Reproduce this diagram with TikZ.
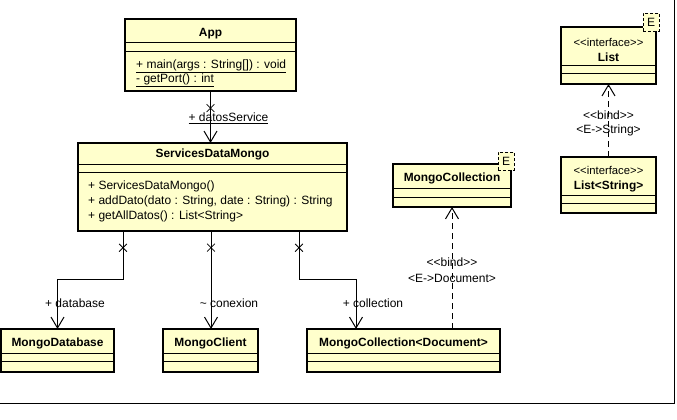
\documentclass[tikz,border=0pt]{standalone}
\usepackage{fontspec}
\setmainfont{Liberation Sans}[Ligatures=TeXOff]
\usepackage{tikz}
\usetikzlibrary{positioning}
\usetikzlibrary{arrows.meta}
\usetikzlibrary{shapes.misc}
\definecolor{classfill}{RGB}{255,255,204}

\begin{document}
\begin{tikzpicture}[
    x=1pt, y=-1pt,
    font=\fontsize{12}{14}\selectfont,
    klass/.style={
      draw,
      line width=2pt,
      fill=classfill,
      anchor=north west,
      inner sep=0pt,
      outer sep=0pt
    },
    title/.style={font=\fontsize{11.9}{14}\selectfont\bfseries, inner sep=0pt},
    stereo/.style={font=\fontsize{11.3}{13}\selectfont, inner sep=0pt},
    member/.style={anchor=west, inner sep=0pt},
    lbl/.style={inner sep=0pt},
    divider/.style={line width=1pt},
    assoc/.style={draw, line width=1pt, -{Straight Barb[length=11pt, width=13pt]}},
    bind/.style={draw, line width=1pt, dashed, dash pattern=on 6pt off 4pt,
      -{Straight Barb[length=11pt, width=13pt]}},
    xmark/.style={draw, cross out, line width=0.8pt, minimum size=7pt, inner sep=0pt},
    tparam/.style={draw, dashed, dash pattern=on 3pt off 2pt, line width=1pt,
      fill=classfill, minimum width=16pt, minimum height=18pt, inner sep=0pt},
    ]

    \useasboundingbox (0,0) rectangle (677,420);

    % class boxes
    \node[klass, minimum width=171pt, minimum height=72pt] (app) at (125,19) {};
    \node[klass, minimum width=269pt, minimum height=88pt] (sdm) at (78,143) {};
    \node[klass, minimum width=113pt, minimum height=43pt] (mdb) at (1,329) {};
    \node[klass, minimum width=95pt, minimum height=43pt] (mcl) at (163,329) {};
    \node[klass, minimum width=193pt, minimum height=43pt] (mcd) at (307,329) {};
    \node[klass, minimum width=118pt, minimum height=43pt] (mc) at (393,164) {};
    \node[klass, minimum width=95pt, minimum height=57pt] (list) at (561,27) {};
    \node[klass, minimum width=95pt, minimum height=56pt] (ls) at (561,157) {};

    \foreach \b/\d in {app/24, app/33, sdm/21, sdm/29, mdb/24, mdb/32, mcl/24, mcl/32,
                       mcd/24, mcd/32, mc/24, mc/33, list/39, list/46, ls/38, ls/46}{
      \draw[divider] ([yshift=-\d pt]\b.north west) -- ([yshift=-\d pt]\b.north east);
    }

    % names and members
    \node[title] (appName) at (210.5,34) {App};
    \node[member] (appMain) at (136,66.5) {\underline{+ main(args : String[]) : void}};
    \node[member] (appPort) at (136,80.5) {\underline{- getPort() : int}};

    \node[title] (sdmName) at (212.5,154.5) {ServicesDataMongo};
    \node[member] (sdmCtor) at (88,186.5) {+ ServicesDataMongo()};
    \node[member] (sdmAdd) at (88,201.5) {+ addDato(dato : String, date : String) : String};
    \node[member] (sdmAll) at (88,216.5) {+ getAllDatos() : List<String>};

    \node[title] (mdbName) at (57.5,343) {MongoDatabase};
    \node[title] (mclName) at (210.5,343) {MongoClient};
    \node[title] (mcdName) at (403.5,343) {MongoCollection<Document>};
    \node[title] (mcName) at (452,178) {MongoCollection};

    \node[stereo] (listSt) at (608.5,42.5) {<<interface>>};
    \node[title] (listName) at (608.5,57) {List};
    \node[stereo] (lsSt) at (608.5,170.5) {<<interface>>};
    \node[title] (lsName) at (608.5,186) {List<String>};

    % template parameters
    \node[tparam] (mcE) at (506,161) {E};
    \node[tparam] (listE) at (651,22.5) {E};

    % associations
    \coordinate (sdmA) at ([xshift=45pt]sdm.south west);
    \coordinate (sdmB) at ([xshift=133pt]sdm.south west);
    \coordinate (sdmC) at ([xshift=221pt]sdm.south west);

    \draw[assoc] (app.south) -- node[xmark, pos=0.33] (xApp) {} (app.south |- sdm.north);
    \draw[assoc] (sdmA) -- node[xmark, pos=0.35] (xDb) {} ++(0,48) -| (mdb.north);
    \draw[assoc] (sdmB) -- node[xmark, pos=0.17] (xCl) {} (sdmB |- mcl.north);
    \draw[assoc] (sdmC) -- node[xmark, pos=0.35] (xCo) {} ++(0,48) -| ([xshift=49pt]mcd.north west);

    \node[lbl] (lblDatos) at (228.5,118.5) {\underline{+ datosService}};
    \node[lbl] (lblDb) at (75,303.5) {+ database};
    \node[lbl] (lblCon) at (229,303.5) {\textasciitilde{} conexion};
    \node[lbl] (lblCol) at (373,303.5) {+ collection};

    % bindings
    \draw[bind] ([xshift=145pt]mcd.north west) -- (mc.south);
    \draw[bind] (ls.north) -- (list.south);

    \node[lbl] (bindDoc) at (452,262.5) {<<bind>>};
    \node[lbl] (bindDocE) at (452,278.5) {<E->Document>};
    \node[lbl] (bindStr) at (608.5,115.5) {<<bind>>};
    \node[lbl] (bindStrE) at (608.5,130.5) {<E->String>};

    % frame
    \draw[line width=1pt] (0,403) -- (674,403) -- (674,0);
  \end{tikzpicture}
\end{document}
